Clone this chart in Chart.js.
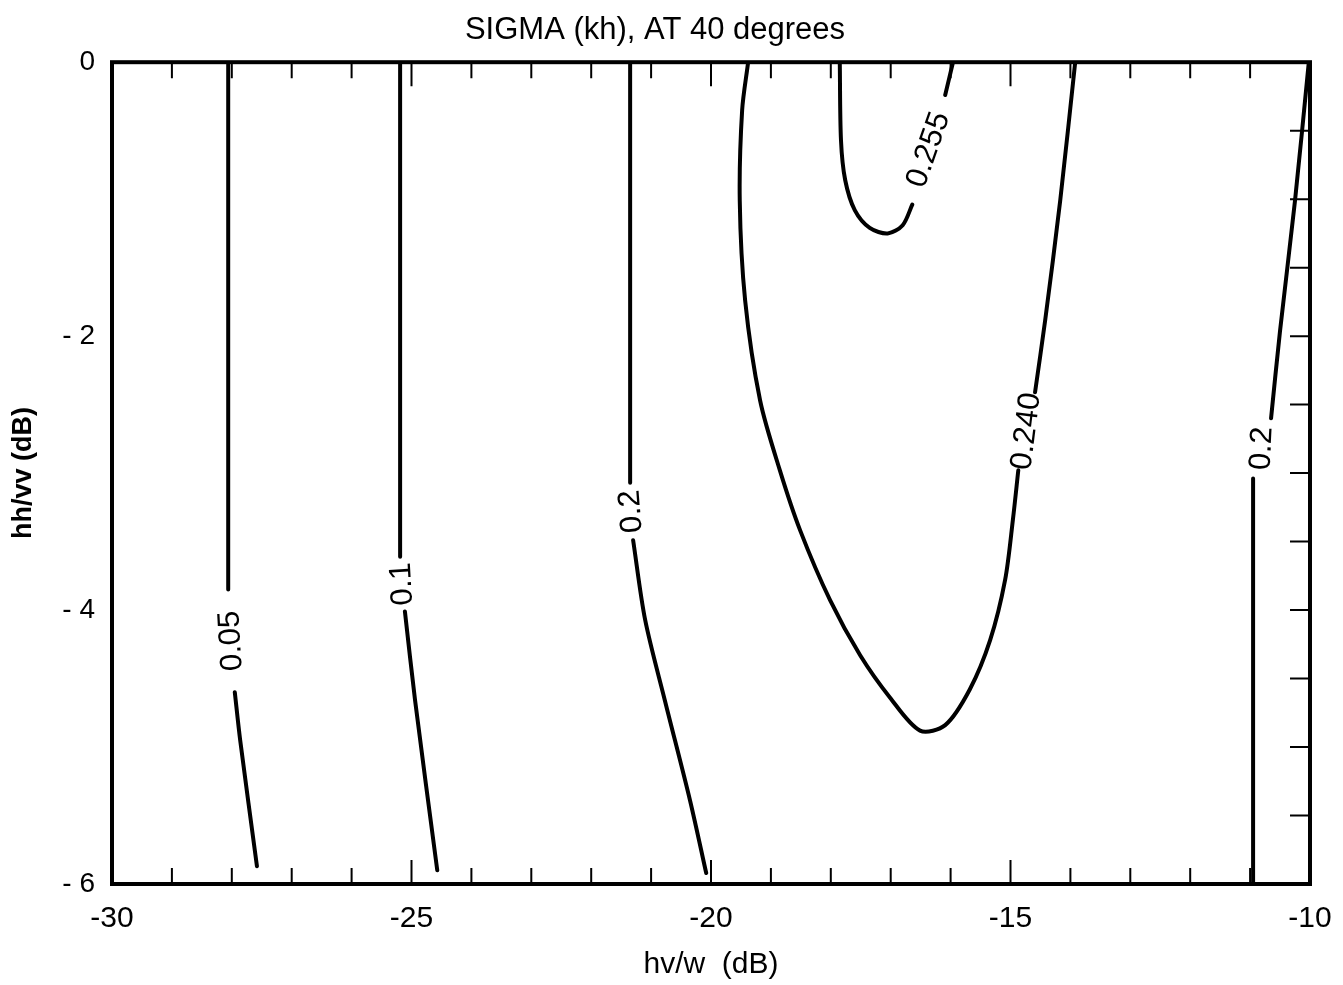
<!DOCTYPE html>
<html>
<head>
<meta charset="utf-8">
<title>SIGMA (kh), AT 40 degrees</title>
<script src="https://cdn.jsdelivr.net/npm/chart.js@4.4.1/dist/chart.umd.min.js"></script>
<style>
  html, body { margin: 0; padding: 0; background: #fff; }
  #wrap { width: 1343px; height: 985px; }
</style>
</head>
<body>
<div id="wrap"><canvas id="myChart"></canvas></div>
<script>
const titleText = "SIGMA (kh), AT 40 degrees";
const xTitle = "hv/w  (dB)";
const yTitle = "hh/vv (dB)";
const xTicks = [-30, -25, -20, -15, -10];
const yTicks = [0, -2, -4, -6];

// contour lines, null marks the gap where the level label is written
const c005Label = "0.05";
const c005X = [-28.06, -28.06, null, -27.95, -27.86, -27.58];
const c005Y = [0, -3.85, null, -4.6, -4.95, -5.87];

const c01Label = "0.1";
const c01X = [-25.19, -25.19, null, -25.11, -24.94, -24.57];
const c01Y = [0, -3.61, null, -4.01, -4.66, -5.9];

const c02aLabel = "0.2";
const c02aX = [-21.35, -21.35, null, -21.3, -21.1, -20.77, -20.35, -20.08];
const c02aY = [0, -3.07, null, -3.49, -4.07, -4.66, -5.39, -5.92];

const c240Label = "0.240";
const c240X = [-19.38, -19.48, -19.52, -19.43, -19.18, -18.85, -18.51, -18.01, -17.51, -17.01, -16.51,
  -16.09, -15.68, -15.34, -15.09, -14.96, -14.87, null, -14.59, -14.42, -14.17, -13.92];
const c240Y = [0, -0.35, -1.01, -1.74, -2.47, -2.98, -3.42, -3.93, -4.33, -4.64, -4.88,
  -4.84, -4.58, -4.22, -3.78, -3.34, -2.98, null, -2.41, -1.88, -1.01, 0];

const c255Label = "0.255";
const c255X = [-17.85, -17.83, -17.76, -17.6, -17.35, -17.05, -16.8, -16.64, null, -16.09, -15.96];
const c255Y = [0, -0.57, -0.86, -1.08, -1.21, -1.25, -1.19, -1.04, null, -0.24, 0];

const c02bLabel = "0.2";
const c02bX = [-10.02, -10.25, -10.5, -10.65, null, -10.95, -10.95];
const c02bY = [0, -1.01, -1.96, -2.6, null, -3.04, -6];

const contours = [
  [c005Label, c005X, c005Y],
  [c01Label, c01X, c01Y],
  [c02aLabel, c02aX, c02aY],
  [c240Label, c240X, c240Y],
  [c255Label, c255X, c255Y],
  [c02bLabel, c02bX, c02bY]
];

const font = "'Liberation Sans', Arial, sans-serif";

// text on the gaps + frame + inside tick marks
const contourExtras = {
  id: "contourExtras",
  afterDatasetsDraw(chart) {
    const { ctx, chartArea: a, scales: { x, y } } = chart;
    ctx.save();

    // labels
    ctx.fillStyle = "#000";
    ctx.font = "31px " + font;
    ctx.textAlign = "center";
    ctx.textBaseline = "middle";
    contours.forEach(([label, xs, ys]) => {
      const g = xs.indexOf(null);
      if (g < 1) return;
      const px = (i) => [x.getPixelForValue(xs[i]), y.getPixelForValue(ys[i])];
      const up = (p, q) => {
        // direction from lower point to upper point
        let lo = p, hi = q;
        if (p[1] < q[1]) { lo = q; hi = p; }
        return Math.atan2(hi[1] - lo[1], hi[0] - lo[0]);
      };
      const p0 = px(g - 1), p1 = px(g + 1);
      let ang = up(px(g - 2), p0);
      if (g + 2 < xs.length) ang = (ang + up(p1, px(g + 2))) / 2;
      ctx.save();
      ctx.translate((p0[0] + p1[0]) / 2, (p0[1] + p1[1]) / 2);
      ctx.rotate(ang);
      ctx.fillText(label, 0, 0);
      ctx.restore();
    });

    // frame
    ctx.strokeStyle = "#000";
    ctx.lineWidth = 4;
    ctx.strokeRect(a.left, a.top, a.right - a.left, a.bottom - a.top);

    // tick marks pointing inward
    ctx.lineWidth = 2;
    ctx.beginPath();
    for (let v = -29; v <= -11; v++) {
      const p = x.getPixelForValue(v);
      const len = v % 5 === 0 ? 24 : 16;
      ctx.moveTo(p, a.top);
      ctx.lineTo(p, a.top + len);
      ctx.moveTo(p, a.bottom);
      ctx.lineTo(p, a.bottom - len);
    }
    for (let v = -5.5; v <= -0.5; v += 0.5) {
      const p = y.getPixelForValue(v);
      ctx.moveTo(a.right, p);
      ctx.lineTo(a.right - 20, p);
    }
    ctx.stroke();
    ctx.restore();
  }
};

const ctx = document.getElementById("myChart");

new Chart(ctx, {
  type: "scatter",
  data: {
    datasets: contours.map(([label, xs, ys]) => ({
      label: label,
      data: xs.map((v, i) => ({ x: v, y: ys[i] })),
      showLine: true,
      spanGaps: false,
      borderColor: "#000",
      borderWidth: 4,
      pointRadius: 0,
      tension: 0.3,
      borderCapStyle: "round"
    }))
  },
  options: {
    responsive: true,
    maintainAspectRatio: false,
    animation: false,
    layout: { padding: { left: 0, right: 33, top: 0, bottom: 0 } },
    plugins: {
      legend: { display: false },
      tooltip: { enabled: false },
      title: {
        display: true,
        text: titleText,
        color: "#000",
        font: { family: font, size: 31, weight: "normal" },
        padding: { top: 12, bottom: 13 }
      }
    },
    scales: {
      x: {
        type: "linear",
        min: -30,
        max: -10,
        afterBuildTicks: (s) => { s.ticks = xTicks.map((v) => ({ value: v })); },
        afterFit: (s) => { s.height = 101; },
        grid: { display: false },
        border: { display: false },
        ticks: {
          color: "#000",
          font: { family: font, size: 30 },
          padding: 9,
          maxRotation: 0
        },
        title: {
          display: true,
          text: xTitle,
          color: "#000",
          font: { family: font, size: 30 },
          padding: { top: 0, bottom: 2 }
        }
      },
      y: {
        type: "linear",
        min: -6,
        max: 0,
        afterBuildTicks: (s) => { s.ticks = yTicks.map((v) => ({ value: v })); },
        afterFit: (s) => { s.width = 112; },
        grid: { display: false },
        border: { display: false },
        ticks: {
          color: "#000",
          font: { family: font, size: 28 },
          padding: 9,
          callback: (v) => (v === 0 ? "0" : "- " + Math.abs(v))
        },
        title: {
          display: true,
          text: yTitle,
          color: "#000",
          font: { family: font, size: 27, weight: "bold" },
          padding: { top: 7, bottom: 0 }
        }
      }
    }
  },
  plugins: [contourExtras]
});
</script>
</body>
</html>
